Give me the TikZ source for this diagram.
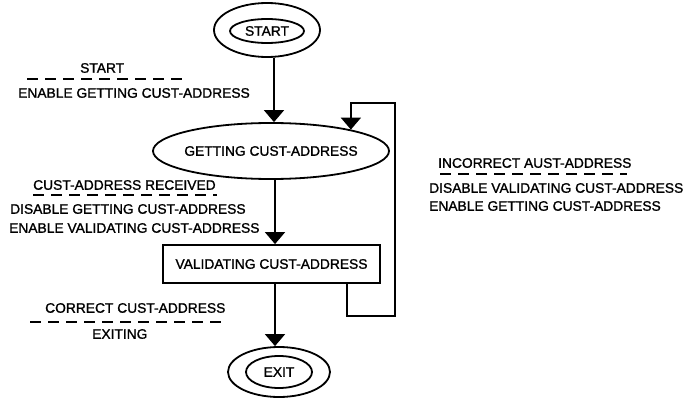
\documentclass[tikz,border=0pt]{standalone}
\usepackage{fontspec}
\setmainfont[FakeBold=1.2]{Liberation Sans}
\usetikzlibrary{arrows.meta,shapes.geometric}
\begin{document}
\begin{tikzpicture}[x=1pt,y=-1pt,
  every node/.style={font=\fontsize{13.8pt}{16pt}\selectfont},
  lw/.style={line width=1.8pt},
  ell/.style={ellipse,draw,lw,inner sep=0pt},
  boxst/.style={rectangle,draw,lw,inner sep=0pt},
  lbl/.style={anchor=west,inner sep=0pt},
  arr/.style={lw,-{Triangle[width=20pt,length=12pt]}},
  divider/.style={line width=1.3pt,dash pattern=on 11pt off 7pt}]
\useasboundingbox[fill=white] (0,0) rectangle (687,398);

% states
\node[ell,minimum width=106pt,minimum height=54pt] (start) at (267,30) {};
\node[ell,minimum width=74pt,minimum height=24pt] (startin) at (267,31) {START};
\node[ell,minimum width=236pt,minimum height=56pt] (getting) at (271,151) {};
\node[inner sep=0pt] (gettingtxt) at (getting.center) {GETTING CUST-ADDRESS};
\node[boxst,minimum width=217pt,minimum height=38pt] (valid) at (271.5,264) {VALIDATING CUST-ADDRESS};
\node[ell,minimum width=102pt,minimum height=50pt] (exit) at (279,372) {};
\node[ell,minimum width=66pt,minimum height=32pt] (exitin) at (279,372) {EXIT};

% connectors
\draw[arr] ([xshift=7pt]start.south) -- ([xshift=7pt]start.south |- getting.north);
\draw[arr] ([xshift=4pt]getting.south) -- ([xshift=4pt]getting.south |- valid.north);
\draw[arr] ([xshift=3.5pt]valid.south) -- ([xshift=3.5pt]valid.south |- exit.north);
\coordinate (loopbr) at (395,316);
\coordinate (looptr) at (395,103);
\draw[arr,line join=miter] ([xshift=75.5pt]valid.south) -- ([xshift=75.5pt]valid.south |- loopbr)
  -- (loopbr) -- (looptr) -| (getting.15.7);

% transition labels
\node[lbl] (t1a) at (80,68) {START};
\draw[divider] (27,79) -- (183,79);
\node[lbl] (t1b) at (18,93) {ENABLE GETTING CUST-ADDRESS};

\node[lbl] (t2a) at (33,185) {CUST-ADDRESS RECEIVED};
\draw[divider] (33,195) -- (217,195);
\node[lbl] (t2b) at (10,209) {DISABLE GETTING CUST-ADDRESS};
\node[lbl] (t2c) at (9,228) {ENABLE VALIDATING CUST-ADDRESS};

\node[lbl] (t3a) at (438,163) {INCORRECT AUST-ADDRESS};
\draw[divider] (440,174) -- (627,174);
\node[lbl] (t3b) at (429,188) {DISABLE VALIDATING CUST-ADDRESS};
\node[lbl] (t3c) at (429,206) {ENABLE GETTING CUST-ADDRESS};

\node[lbl] (t4a) at (45,308) {CORRECT CUST-ADDRESS};
\draw[divider] (30,322) -- (222,322);
\node[lbl] (t4b) at (92,334) {EXITING};
\end{tikzpicture}
\end{document}
